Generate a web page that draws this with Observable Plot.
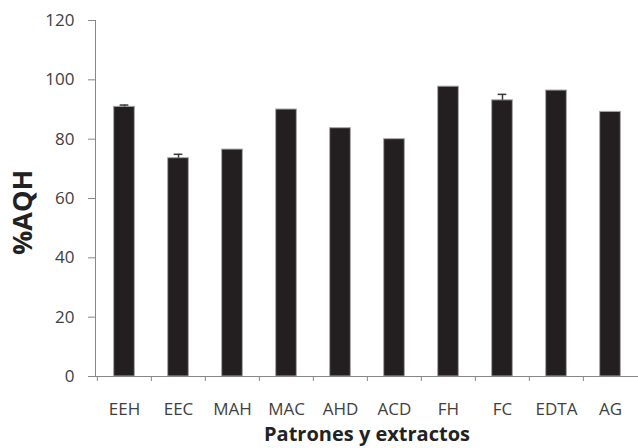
<!DOCTYPE html>
<html>
<head>
<meta charset="utf-8">
<script src="https://cdn.jsdelivr.net/npm/d3@7"></script>
<script src="https://cdn.jsdelivr.net/npm/@observablehq/plot@0.6"></script>
<style>
  html, body { margin: 0; padding: 0; background: #fff; }
  #chart { width: 638px; height: 448px; }
</style>
</head>
<body>
<div id="chart"></div>
<script>
const categories = ["EEH", "EEC", "MAH", "MAC", "AHD", "ACD", "FH", "FC", "EDTA", "AG"];
const values = [90.9, 73.6, 76.5, 90.0, 83.7, 80.0, 97.7, 93.1, 96.4, 89.2];
const errors = [0.6, 1.3, 0, 0, 0, 0, 0, 2.0, 0, 0];
const yTicks = [0, 20, 40, 60, 80, 100, 120];
const yLabel = "%AQH";
const xLabel = "Patrones y extractos";

const data = categories.map((c, i) => ({cat: c, value: values[i], err: errors[i]}));
const errData = data.filter(d => d.err > 0);

const W = 638, H = 448, ML = 95, MR = 0, MT = 20, MB = 72;
const step = (W - ML - MR) / categories.length;
const barW = 21;
const capW = 9;
const axisColor = "#878787";
const textColor = "#404040";

const chart = Plot.plot({
  width: W, height: H,
  marginLeft: ML, marginRight: MR, marginTop: MT, marginBottom: MB,
  style: {fontFamily: "'Open Sans', sans-serif", background: "#fff", overflow: "visible"},
  x: {domain: categories, padding: 0, label: null},
  y: {domain: [0, 120], label: null},
  marks: [
    Plot.barY(data, {x: "cat", y: "value", fill: "#231f20", stroke: "#a9a9a9", strokeWidth: 1,
      insetLeft: (step - barW) / 2, insetRight: (step - barW) / 2}),
    Plot.ruleX(errData, {x: "cat", y1: "value", y2: d => d.value + d.err, stroke: "#3a3a3a", strokeWidth: 1.5}),
    Plot.tickY(errData, {x: "cat", y: d => d.value + d.err, stroke: "#3a3a3a", strokeWidth: 1.5,
      insetLeft: (step - capW) / 2, insetRight: (step - capW) / 2}),
    Plot.frame({anchor: "left", stroke: axisColor}),
    Plot.ruleY([0], {stroke: axisColor}),
    Plot.axisY({ticks: yTicks, tickSize: 7, tickPadding: 14, fontSize: 17, stroke: axisColor, fill: textColor, label: null}),
    Plot.axisX({tickSize: 5, dx: -step / 2, text: null, stroke: axisColor, label: null}),
    Plot.axisX({tickSize: 0, tickPadding: 26, fontSize: 17, fill: textColor, label: null}),
    Plot.text([yLabel], {frameAnchor: "left", textAnchor: "middle", lineAnchor: "middle", rotate: -90, dx: -72, dy: 14,
      fontSize: 27, fontWeight: "bold", fill: "#222"}),
    Plot.text([xLabel], {frameAnchor: "bottom", textAnchor: "middle", lineAnchor: "bottom", dy: 64,
      fontSize: 20, fontWeight: "bold", fill: "#222"})
  ]
});
document.getElementById("chart").appendChild(chart);
</script>
</body>
</html>
